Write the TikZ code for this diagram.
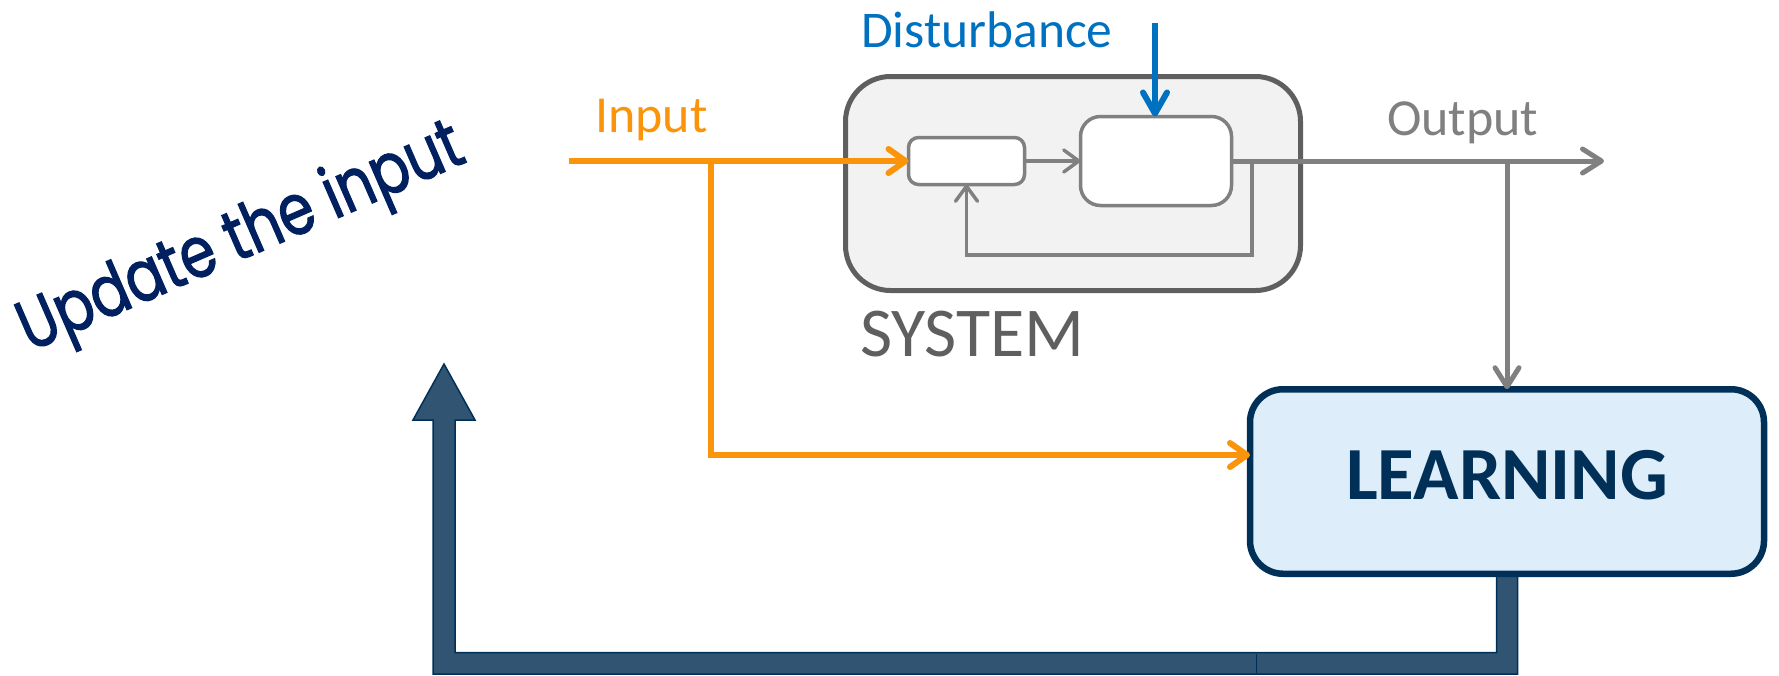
\documentclass[tikz,border=0pt]{standalone}
\usepackage{fontspec}
\setmainfont{Carlito}
\newfontfamily\handfont[FakeStretch=0.8,FakeBold=1.6]{Poppins}
\usetikzlibrary{arrows.meta,calc,backgrounds}

\definecolor{inorange}{RGB}{250,148,10}
\definecolor{distblue}{RGB}{0,112,192}
\definecolor{sigray}{RGB}{128,128,128}
\definecolor{sysgray}{RGB}{95,95,95}
\definecolor{sysfill}{RGB}{242,242,242}
\definecolor{navy}{RGB}{0,48,87}
\definecolor{learnfill}{RGB}{221,237,250}
\definecolor{fatblue}{RGB}{49,84,114}
\definecolor{inkblue}{RGB}{0,32,96}

\tikzset{
  lbl/.style={inner sep=0pt, outer sep=0pt, anchor=base west},
  sysbox/.style={draw=sysgray, fill=sysfill, line width=5pt, rounded corners=45pt,
    inner sep=0pt, outer sep=0pt, minimum width=455pt, minimum height=214pt},
  blockbox/.style={draw=sigray, fill=white, line width=3.5pt, inner sep=0pt, outer sep=0pt},
  learnbox/.style={draw=navy, fill=learnfill, line width=6.5pt, rounded corners=33pt,
    inner sep=0pt, outer sep=0pt, minimum width=514pt, minimum height=184.5pt},
  inflow/.style={draw=inorange, line width=6pt,
    -{Straight Barb[length=17pt,width=24pt,round]}},
  outflow/.style={draw=sigray, line width=5pt,
    -{Straight Barb[length=19pt,width=24pt,round]}},
  innerflow/.style={draw=sigray, line width=3.5pt,
    -{Straight Barb[length=15pt,width=22pt,round]}},
  distflow/.style={draw=distblue, line width=6pt,
    -{Straight Barb[length=21pt,width=24pt,round]}},
  fatarrow/.style={draw=navy, fill=fatblue, line width=1.5pt, line join=miter},
}

\begin{document}
\begin{tikzpicture}[x=1pt, y=-1pt]
\useasboundingbox (0,0) rectangle (1779,675);

% plant with its controller and process blocks
\node[sysbox] (sys) at (1073,183.5) {};
\node[blockbox, rounded corners=10pt, minimum width=116pt, minimum height=47pt] (b1) at (966.5,161) {};
\node[blockbox, rounded corners=20pt, minimum width=151pt, minimum height=89pt] (b2) at (1156,161) {};
\node[lbl, text=sysgray, font=\fontsize{70}{82}\selectfont] (systxt) at (860,356) {SYSTEM};

% learning block
\node[learnbox] (learn) at (1507,481.5) {};
\node[inner sep=0pt, anchor=base, text=navy, font=\bfseries\fontsize{75}{88}\selectfont] (learntxt) at (1507,499) {LEARNING};

% labels
\node[lbl, text=distblue, font=\fontsize{51.5}{60}\selectfont] (disttxt) at (861,47) {Disturbance};
\node[lbl, text=inorange, font=\fontsize{52}{60}\selectfont] (intxt) at (595,132) {Input};
\node[lbl, text=sigray, font=\fontsize{52}{60}\selectfont] (outtxt) at (1387,135) {Output};

% input signal and its branch to the learning block
\coordinate (inStart) at (569,161);
\coordinate (inBranch) at (711,161);
\draw[inflow] (inStart) -- (b1.west);
\draw[inflow] (inBranch) |- ([yshift=26.5pt]learn.west);

% disturbance
\coordinate (dist) at (1155,23);
\draw[distflow] (dist) -- (dist |- b2.north);

% signals inside the plant
\draw[innerflow] (b1.east) -- (b2.west);
\coordinate (fb) at (1252,161);
\draw[innerflow] (fb) -- ++(0,94) -| (b1.south);

% output and its branch to the learning block
\coordinate (outEnd) at (1604,161);
\draw[outflow] (b2.east) -- (outEnd);
\coordinate (outBranch) at (1507,161);
\draw[outflow] (outBranch) -- (learn.north);

% wide return arrow from the learning block
\coordinate (upd) at (444,364);
\begin{pgfonlayer}{background}
\draw[fatarrow]
  ($(learn.south)+(10.5,0)$) -- ($(learn.south)+(10.5,100.25)$)
  -- (433,674) -- (433,420) -- (413,420) -- (upd) -- (475,420) -- (455,420)
  -- (455,652.5) -- ($(learn.south)+(-10.5,78.75)$) -- ($(learn.south)+(-10.5,0)$) -- cycle;
\end{pgfonlayer}
\draw[navy, line width=1pt] (1256,653.5) -- (1256,673);

% handwritten note
\node[inner sep=0pt, anchor=base west, rotate=23.5, text=inkblue,
      font=\handfont\fontsize{71}{76}\selectfont] (note) at (30,352) {Update the input};
\end{tikzpicture}
\end{document}
